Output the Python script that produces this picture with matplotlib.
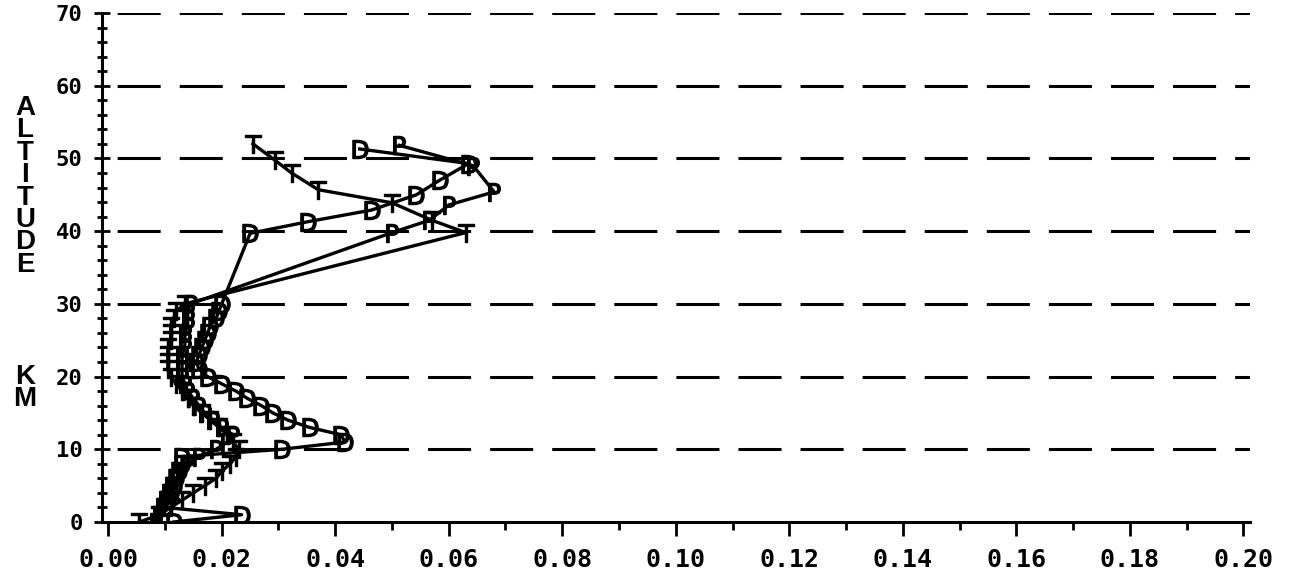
import matplotlib
matplotlib.use("Agg")
import matplotlib.pyplot as plt
from matplotlib import font_manager
from matplotlib.ticker import MultipleLocator, FixedLocator

# ---------------- data ----------------
alt_T = [0, 1, 2, 3, 4, 5, 6, 7, 8, 9, 10, 11, 12, 13, 14, 15, 16, 17, 18, 19,
         20, 21, 22, 23, 24, 25, 26, 27, 28, 29, 30, 39.8, 41.5, 43.9, 45.7, 48.0, 49.8, 52.0]
val_T = [0.0055, 0.009, 0.011, 0.013, 0.015, 0.017, 0.019, 0.020, 0.0215, 0.0225, 0.023,
         0.022, 0.021, 0.0195, 0.018, 0.0165, 0.015, 0.014, 0.013, 0.012, 0.011, 0.0105,
         0.0105, 0.0105, 0.0105, 0.011, 0.011, 0.011, 0.0115, 0.012, 0.0135,
         0.063, 0.057, 0.050, 0.037, 0.0323, 0.0293, 0.0255]

alt_D = [0, 1, 2, 3, 4, 5, 6, 7, 8, 9, 10, 11, 12, 13, 14, 15, 16, 17, 18, 19,
         20, 21, 22, 23, 24, 25, 26, 27, 28, 29, 30, 39.7, 41.3, 42.9, 45.0, 47.0, 49.3, 51.3]
val_D = [0.0115, 0.0235, 0.010, 0.0105, 0.011, 0.0115, 0.012, 0.0125, 0.013, 0.013, 0.0306,
         0.0417, 0.041, 0.0355, 0.0317, 0.029, 0.027, 0.0245, 0.0225, 0.020, 0.0175, 0.016,
         0.0155, 0.016, 0.0165, 0.017, 0.0175, 0.018, 0.019, 0.0195, 0.020,
         0.025, 0.0352, 0.0464, 0.0543, 0.0584, 0.0635, 0.0443]

alt_P = [0, 1, 2, 3, 4, 5, 6, 7, 8, 9, 10, 11, 12, 13, 14, 15, 16, 17, 18, 19,
         20, 21, 22, 23, 24, 25, 26, 27, 28, 29, 30, 39.8, 41.5, 43.6, 45.4, 49.0, 51.8]
val_P = [0.0085, 0.009, 0.0095, 0.010, 0.0105, 0.011, 0.012, 0.013, 0.014, 0.016, 0.019,
         0.021, 0.022, 0.020, 0.0185, 0.017, 0.016, 0.015, 0.014, 0.0135, 0.013, 0.013,
         0.013, 0.013, 0.0135, 0.0135, 0.0135, 0.014, 0.014, 0.014, 0.0145,
         0.050, 0.0566, 0.060, 0.068, 0.0643, 0.0513]

x_ticks = [0.00, 0.02, 0.04, 0.06, 0.08, 0.10, 0.12, 0.14, 0.16, 0.18, 0.20]
x_labels = ["0.00", "0.02", "0.04", "0.06", "0.08", "0.10", "0.12", "0.14", "0.16", "0.18", "0.20"]
y_ticks = [0, 10, 20, 30, 40, 50, 60, 70]
y_labels = ["0", "10", "20", "30", "40", "50", "60", "70"]
ylabel_word1 = "ALTITUDE"
ylabel_word2 = "KM"

# ---------------- fonts ----------------
names = {f.name for f in font_manager.fontManager.ttflist}
label_font = "Liberation Sans Narrow" if "Liberation Sans Narrow" in names else "Liberation Sans"
tick_font = "DejaVu Sans Mono"

plt.rcParams["lines.scale_dashes"] = False

W, H = 1294, 588
fig = plt.figure(figsize=(W / 100, H / 100), dpi=100)
fig.patch.set_facecolor("white")

x0, x1 = -0.0011, 0.2011
ax = fig.add_axes([102 / W, 1 - 522 / H, 1147.5 / W, 509 / H])
ax.set_xlim(x0, x1)
ax.set_ylim(0, 70)

for sp in ["top", "right"]:
    ax.spines[sp].set_visible(False)
for sp in ["left", "bottom"]:
    ax.spines[sp].set_linewidth(2.2)

# dashed horizontal grid
for yv in y_ticks[1:]:
    ax.axhline(yv, color="black", lw=2.2, linestyle=(33.8, (31, 13.7)), zorder=1)

ms = 13
lw = 2.4
ax.plot(val_T, alt_T, color="black", lw=lw, marker=r"$\mathsf{T}$", ms=ms, zorder=3)
ax.plot(val_D, alt_D, color="black", lw=lw, marker=r"$\mathsf{D}$", ms=ms, zorder=3)
ax.plot(val_P, alt_P, color="black", lw=lw, marker=r"$\mathsf{P}$", ms=ms, zorder=3)

ax.xaxis.set_major_locator(FixedLocator(x_ticks))
ax.xaxis.set_minor_locator(MultipleLocator(0.01))
ax.set_xticklabels(x_labels, fontfamily=tick_font, fontweight="bold", fontsize=18)
ax.yaxis.set_major_locator(FixedLocator(y_ticks))
ax.yaxis.set_minor_locator(MultipleLocator(2))
ax.set_yticklabels(y_labels, fontfamily=tick_font, fontweight="bold", fontsize=16)

ax.tick_params(axis="x", which="major", direction="out", length=10, width=2, pad=9)
ax.tick_params(axis="x", which="minor", direction="out", length=6, width=2)
ax.tick_params(axis="y", which="major", direction="inout", length=12, width=2, pad=8)
ax.tick_params(axis="y", which="minor", direction="inout", length=7, width=2)

# stacked vertical y label (one text per word, letters on separate lines)
fig.text(25 / W, 1 - 95 / H, "\n".join(ylabel_word1), ha="center", va="top",
         multialignment="center", linespacing=0.82,
         fontsize=20, fontweight="bold", fontfamily=label_font)
fig.text(25 / W, 1 - 364 / H, "\n".join(ylabel_word2), ha="center", va="top",
         multialignment="center", linespacing=0.82,
         fontsize=20, fontweight="bold", fontfamily=label_font)

fig.savefig("out.png", dpi=100, facecolor="white")
